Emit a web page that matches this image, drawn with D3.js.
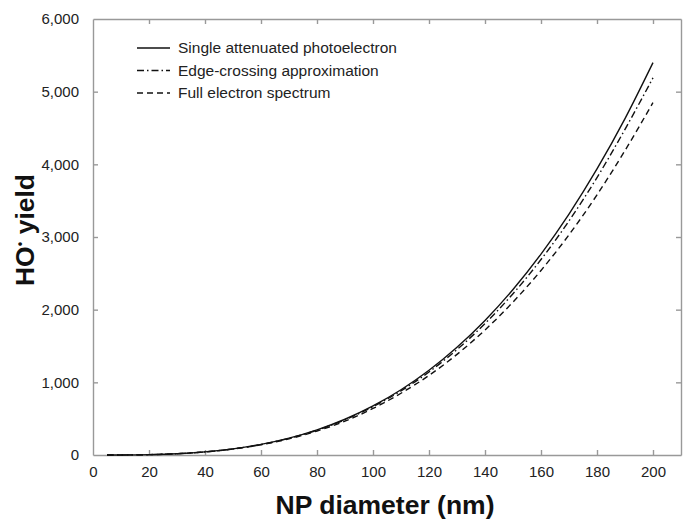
<!DOCTYPE html>
<html lang="en">
<head>
    <meta charset="UTF-8">
    <title>HO yield vs NP diameter</title>
    <script src="https://cdn.jsdelivr.net/npm/d3@7"></script>
    <style>
        body { margin: 0; background: #fff; }
        text { font-family: "Liberation Sans", Arial, sans-serif; fill: #222; }
        .tick text { font-size: 15px; }
        .axis path, .axis line { stroke: #999; stroke-width: 1.4px; }
        .title { font-size: 26.5px; font-weight: bold; fill: #111; }
        .legend text { font-size: 15.5px; }
    </style>
</head>
<body>
<script>
    // values (nm, yield)
    var diameters = [5, 10, 20, 30, 40, 50, 60, 70, 80, 90, 100, 110, 120, 130, 140, 150, 160, 170, 180, 190, 200];
    var singleAttenuated = [0.1, 0.7, 5, 18, 43, 84, 146, 232, 346, 492, 675, 898, 1166, 1483, 1852, 2278, 2765, 3316, 3937, 4630, 5400];
    var edgeCrossing = [0.1, 0.7, 5, 18, 43, 83, 144, 229, 341, 485, 664, 882, 1143, 1451, 1809, 2220, 2690, 3222, 3818, 4482, 5190];
    var fullSpectrum = [0.1, 0.7, 5, 18, 42, 82, 141, 222, 330, 466, 640, 850, 1095, 1385, 1720, 2105, 2540, 3030, 3580, 4190, 4850];
    var seriesNames = ["Single attenuated photoelectron", "Edge-crossing approximation", "Full electron spectrum"];
    var xTicks = [0, 20, 40, 60, 80, 100, 120, 140, 160, 180, 200];
    var yTicks = [0, 1000, 2000, 3000, 4000, 5000, 6000];

    var width = 684;
    var height = 521;
    var margin = {top: 19, right: 3, bottom: 66, left: 93};

    var svg = d3.select("body")
            .append("svg")
            .attr("width", width)
            .attr("height", height);

    var x = d3.scaleLinear().domain([0, 210]).range([margin.left, width - margin.right]);
    var y = d3.scaleLinear().domain([0, 6000]).range([height - margin.bottom, margin.top]);

    var fmt = d3.format(",");

    // bottom
    svg.append("g")
            .attr("class", "axis")
            .attr("transform", "translate(0," + y(0) + ")")
            .call(d3.axisBottom(x).tickValues(xTicks).tickSize(-5).tickPadding(11).tickSizeOuter(0))
            .call(function (g) { g.selectAll(".tick").filter(function (d) { return d === 0; }).select("line").remove(); });
    // top
    svg.append("g")
            .attr("class", "axis")
            .attr("transform", "translate(0," + y(6000) + ")")
            .call(d3.axisTop(x).tickValues(xTicks.slice(1)).tickSize(-5).tickSizeOuter(0).tickFormat(""));
    // left
    svg.append("g")
            .attr("class", "axis")
            .attr("transform", "translate(" + x(0) + ",0)")
            .call(d3.axisLeft(y).tickValues(yTicks).tickSize(-5).tickPadding(14).tickSizeOuter(0).tickFormat(fmt))
            .call(function (g) { g.selectAll(".tick").filter(function (d) { return d === 0 || d === 6000; }).select("line").remove(); });
    // right
    svg.append("g")
            .attr("class", "axis")
            .attr("transform", "translate(" + x(210) + ",0)")
            .call(d3.axisRight(y).tickValues(yTicks.slice(1, 6)).tickSize(-5).tickSizeOuter(0).tickFormat(""));

    svg.selectAll(".axis .domain").attr("stroke", "#999");

    var series = [singleAttenuated, edgeCrossing, fullSpectrum];
    var dashes = [null, "7,3,1.5,3", "6,4"];

    var line = d3.line()
            .x(function (d, i) { return x(diameters[i]); })
            .y(function (d) { return y(d); })
            .curve(d3.curveMonotoneX);

    svg.append("g")
            .selectAll("path")
            .data(series)
            .enter()
            .append("path")
            .attr("d", line)
            .attr("fill", "none")
            .attr("stroke", "#111")
            .attr("stroke-width", 1.4)
            .attr("stroke-dasharray", function (d, i) { return dashes[i]; });

    // legend
    var legend = svg.append("g").attr("class", "legend");
    var lg = legend.selectAll("g")
            .data(seriesNames)
            .enter()
            .append("g")
            .attr("transform", function (d, i) { return "translate(137," + (48 + i * 22.5) + ")"; });
    lg.append("line")
            .attr("x1", 0).attr("x2", 33)
            .attr("stroke", "#111")
            .attr("stroke-width", 1.4)
            .attr("stroke-dasharray", function (d, i) { return dashes[i]; });
    lg.append("text")
            .attr("x", 41)
            .attr("dy", "0.35em")
            .text(function (d) { return d; });

    // axis titles
    svg.append("text")
            .attr("class", "title")
            .attr("x", 385)
            .attr("y", 514)
            .attr("text-anchor", "middle")
            .text("NP diameter (nm)");

    var yt = svg.append("text")
            .attr("class", "title")
            .attr("transform", "translate(34,230) rotate(-90)")
            .attr("text-anchor", "middle");
    yt.append("tspan").text("HO");
    yt.append("tspan").attr("dy", -10).attr("font-size", "13px").text("•");
    yt.append("tspan").attr("dy", 10).text(" yield");
</script>
</body>
</html>
